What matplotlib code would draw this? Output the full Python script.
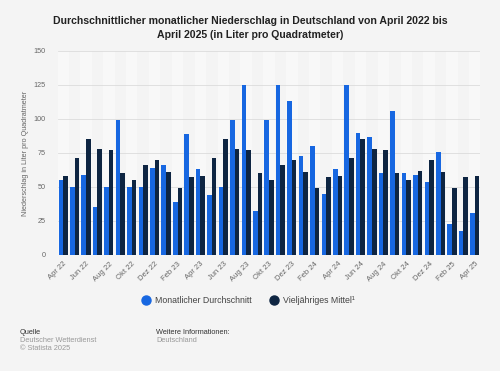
import numpy as np
import matplotlib.pyplot as plt

plt.rcParams['font.family'] = ['Liberation Sans', 'DejaVu Sans']

# monthly values Apr 2022 - Apr 2025 (liter per m²)
months = ['Apr 22', 'Mai 22', 'Jun 22', 'Jul 22', 'Aug 22', 'Sep 22', 'Okt 22', 'Nov 22', 'Dez 22',
          'Jan 23', 'Feb 23', 'Mär 23', 'Apr 23', 'Mai 23', 'Jun 23', 'Jul 23', 'Aug 23', 'Sep 23',
          'Okt 23', 'Nov 23', 'Dez 23', 'Jan 24', 'Feb 24', 'Mär 24', 'Apr 24', 'Mai 24', 'Jun 24',
          'Jul 24', 'Aug 24', 'Sep 24', 'Okt 24', 'Nov 24', 'Dez 24', 'Jan 25', 'Feb 25', 'Mär 25',
          'Apr 25']
monthly_avg = [55, 50, 59, 35, 50, 99, 50, 50, 64,
               66, 39, 89, 63, 44, 50, 99, 125, 32,
               99, 125, 113, 73, 80, 45, 63, 125, 90,
               87, 60, 106, 60, 59, 54, 76, 23, 18,
               31]
longterm_avg = [58, 71, 85, 78, 77, 60, 55, 66, 70,
                61, 49, 57, 58, 71, 85, 78, 77, 60,
                55, 66, 70, 61, 49, 57, 58, 71, 85,
                78, 77, 60, 55, 62, 70, 61, 49, 57,
                58]
tick_labels = months[::2]

blue = '#1767e1'
navy = '#0e2542'
bg = '#f4f4f4'

fig = plt.figure(figsize=(5, 3.71), dpi=100, facecolor=bg)
ax = fig.add_axes([0.116, 0.3127, 0.844, 0.55])
ax.set_facecolor(bg)

x = np.arange(len(months))
# light column stripes
for i in x[::2]:
    ax.axvspan(i - 0.5, i + 0.5, color='#f8f8f8', zorder=0, lw=0)

w = 0.4
ax.bar(x - w / 2, monthly_avg, width=w, color=blue, zorder=3, label='Monatlicher Durchschnitt')
ax.bar(x + w / 2, longterm_avg, width=w, color=navy, zorder=3, label='Vieljähriges Mittel¹')

ax.set_ylim(0, 150)
ax.set_xlim(-0.45, len(months) - 0.55)
ax.set_yticks(range(0, 151, 25))
ax.yaxis.grid(True, color='#dcdcdc', lw=0.6, zorder=1)
ax.tick_params(axis='y', length=0, labelsize=5.2, labelcolor='#666666', pad=9)
ax.set_xticks(x[::2])
ax.set_xticklabels(tick_labels, rotation=45, ha='right', rotation_mode='anchor')
ax.tick_params(axis='x', length=0, labelsize=5.5, labelcolor='#666666', pad=4)
for s in ax.spines.values():
    s.set_visible(False)
ax.axhline(0, color='#cccccc', lw=0.6, zorder=4)

ax.set_ylabel('Niederschlag in Liter pro Quadratmeter', fontsize=5.2, color='#666666', labelpad=3)

fig.text(0.5, 0.956, 'Durchschnittlicher monatlicher Niederschlag in Deutschland von April 2022 bis\n'
         'April 2025 (in Liter pro Quadratmeter)', ha='center', va='top', fontsize=7.6,
         fontweight='bold', color='#222222', linespacing=1.4)

fig.legend(loc='center', bbox_to_anchor=(0.497, 0.189), ncol=2, frameon=False, fontsize=6.3,
           handlelength=0.8, handleheight=0.8, columnspacing=2.2, handletextpad=0.6,
           labelcolor='#444444',
           handles=[plt.Line2D([], [], marker='o', ls='', color=blue, markersize=6.5),
                    plt.Line2D([], [], marker='o', ls='', color=navy, markersize=6.5)],
           labels=['Monatlicher Durchschnitt', 'Vieljähriges Mittel¹'])

fig.text(0.04, 0.104, 'Quelle', fontsize=5.3, color='#333333', va='center')
fig.text(0.04, 0.082, 'Deutscher Wetterdienst', fontsize=5.3, color='#999999', va='center')
fig.text(0.04, 0.061, '© Statista 2025', fontsize=5.3, color='#999999', va='center')
fig.text(0.312, 0.104, 'Weitere Informationen:', fontsize=5.3, color='#333333', va='center')
fig.text(0.312, 0.082, 'Deutschland', fontsize=5.3, color='#999999', va='center')

fig.savefig('out.png', dpi=100, facecolor=bg)
